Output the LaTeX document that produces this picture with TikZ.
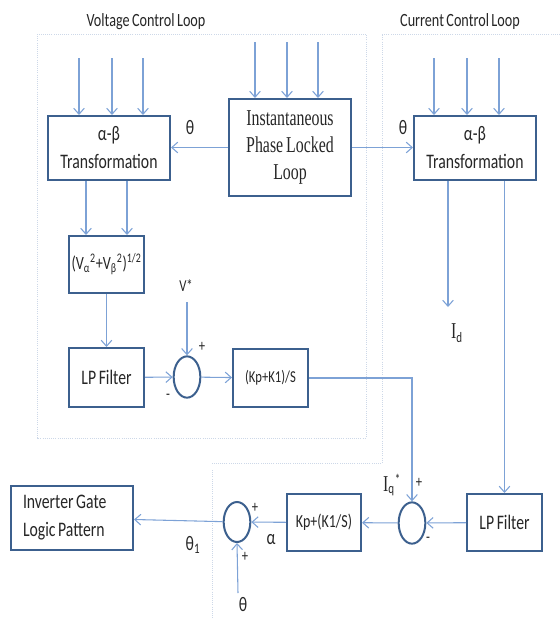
\documentclass[tikz,border=0pt]{standalone}
\usepackage{fontspec}
\setmainfont[FakeStretch=0.76,WordSpace=0.75]{Carlito}
\newfontfamily\plltimes[FakeStretch=0.7,WordSpace=0.75]{Liberation Serif}
\usepackage{tikz}
\usetikzlibrary{positioning,arrows.meta,shapes.geometric,calc}
\definecolor{boxblue}{RGB}{60,96,142}
\definecolor{arrowblue}{RGB}{125,162,214}
\definecolor{loopgrey}{RGB}{205,216,232}

\begin{document}
\begin{tikzpicture}[
    x=0.75pt, y=-0.75pt,
    box/.style={rectangle, draw=boxblue, line width=1.5pt, fill=white, align=center, inner sep=0pt, text=black!85, font=\fontsize{15.5}{21}\selectfont},
    sum/.style={ellipse, draw=boxblue, line width=1.5pt, minimum width=20pt, minimum height=31pt, inner sep=0pt},
    arrow/.style={-{Straight Barb[length=4.5pt,width=8pt]}, line width=0.8pt, arrowblue},
    loopbox/.style={draw=loopgrey, dash pattern=on 0.7pt off 0.9pt, line width=0.6pt},
    lbl/.style={inner sep=0pt, text=black!85, font=\fontsize{15.5}{18}\selectfont},
    sign/.style={inner sep=0pt, text=black!85, font=\fontsize{12.5}{14}\selectfont},
]
    \useasboundingbox (0,0) rectangle (560,619);

    % Loop regions
    \draw[loopbox] (37,34) rectangle (366,438);
    \draw[loopbox] (560,34) -- (382,34) -- (382,463) -- (212,463);
    \draw[loopbox] (212,470) -- (212,619);
    \node[lbl, font=\fontsize{14}{16}\selectfont] (vtitle) at (146,22) {Voltage Control Loop};
    \node[lbl, font=\fontsize{14}{16}\selectfont] (ctitle) at (460,22) {Current Control Loop};

    % Voltage loop
    \node[box, minimum width=91.5pt, minimum height=48pt] (vab) at (109,148) {α-β\\Transformation};
    \node[box, minimum width=91.5pt, minimum height=72.75pt, font=\plltimes\fontsize{17}{20}\selectfont] (pll) at (290,147.5) {Instantaneous\\Phase Locked\\Loop};
    \node[box, minimum width=56.25pt, minimum height=42.75pt, font=\fontsize{14}{16}\selectfont] (mag) at (106.5,264.5) {(V\textsubscript{α}\textsuperscript{2}+V\textsubscript{β}\textsuperscript{2})\textsuperscript{1/2}};
    \node[box, minimum width=56.25pt, minimum height=44.25pt] (lpv) at (106.5,377.5) {LP Filter};
    \node[sum] (sumv) at (187,377) {};
    \node[box, minimum width=56.25pt, minimum height=43.5pt, font=\fontsize{12.5}{15}\selectfont] (pi1) at (270.5,378) {(Kp+K1)/S};

    % Current loop
    \node[box, minimum width=91.5pt, minimum height=48pt] (cab) at (475,148) {α-β\\Transformation};
    \node[box, minimum width=56.25pt, minimum height=42.75pt] (lpc) at (504.5,522.5) {LP Filter};
    \node[sum] (sumc) at (412,523) {};
    \node[box, minimum width=55.5pt, minimum height=42.75pt, font=\fontsize{13.8}{16}\selectfont] (pi2) at (324,522.5) {Kp+(K1/S)};
    \node[sum, minimum height=30pt] (sumt) at (237,522) {};
    \node[box, minimum width=91.5pt, minimum height=48pt, align=flush left, text width=73.5pt] (inv) at (72,518) {Inverter Gate\\Logic Pattern};

    % Inputs
    \foreach \dx in {-30,3,34}
        \draw[arrow] ($(vab.north)+(\dx,-57)$) -- ($(vab.north)+(\dx,0)$);
    \foreach \dx in {-35,-3,28}
        \draw[arrow] ($(pll.north)+(\dx,-56)$) -- ($(pll.north)+(\dx,0)$);
    \foreach \dx in {-41,-8,24}
        \draw[arrow] ($(cab.north)+(\dx,-57)$) -- ($(cab.north)+(\dx,0)$);

    % Angle from the PLL
    \draw[arrow] (pll.west) -- (pll.west -| vab.east);
    \draw[arrow] (pll.east) -- (pll.east -| cab.west);
    \node[lbl] (thv) at (190,128) {θ};
    \node[lbl] (thc) at (403,128) {θ};

    % Voltage loop arrows
    \foreach \dx in {-23,18}
        \draw[arrow] ($(vab.south)+(\dx,0)$) -- ($(mag.north)+(\dx+2.5,0)$);
    \draw[arrow] (mag) -- (lpv);
    \draw[arrow] (lpv) -- (sumv);
    \coordinate (vref) at (187,302);
    \draw[arrow] (vref) -- (sumv.north);
    \node[sign] (vreflbl) at (186,286) {V*};
    \node[sign] (vplus) at (202,347) {+};
    \node[sign] (vminus) at (168,397) {-};
    \draw[arrow] (sumv) -- (pi1);
    \draw[arrow] (pi1.east) -| (sumc.north);

    % Current loop arrows
    \coordinate (idend) at (448,307);
    \draw[arrow] (cab.south -| idend) -- (idend);
    \node[lbl] (idlbl) at (457,333) {{\plltimes\fontsize{17}{20}\selectfont I}\textsubscript{d}};
    \draw[arrow] (lpc.north |- cab.south) -- (lpc.north);
    \draw[arrow] (lpc) -- (sumc);
    \node[lbl] (iqlbl) at (392,485) {{\plltimes\fontsize{17}{20}\selectfont I}\textsubscript{q}\textsuperscript{*}};
    \node[sign] (cplus) at (419,483) {+};
    \node[sign] (cminus) at (428,540) {-};
    \draw[arrow] (sumc) -- (pi2);
    \draw[arrow] (pi2) -- (sumt);

    % Output
    \coordinate (thin) at (238,593);
    \draw[arrow] (thin) -- (sumt.south);
    \draw[arrow] (sumt) -- (inv);
    \node[sign] (tplus1) at (255,508) {+};
    \node[sign] (tplus2) at (245,557) {+};
    \node[lbl] (alphalbl) at (271,540) {α};
    \node[lbl] (thlbl) at (243,605) {θ};
    \node[lbl] (th1lbl) at (193,545) {θ\textsubscript{1}};
\end{tikzpicture}
\end{document}
